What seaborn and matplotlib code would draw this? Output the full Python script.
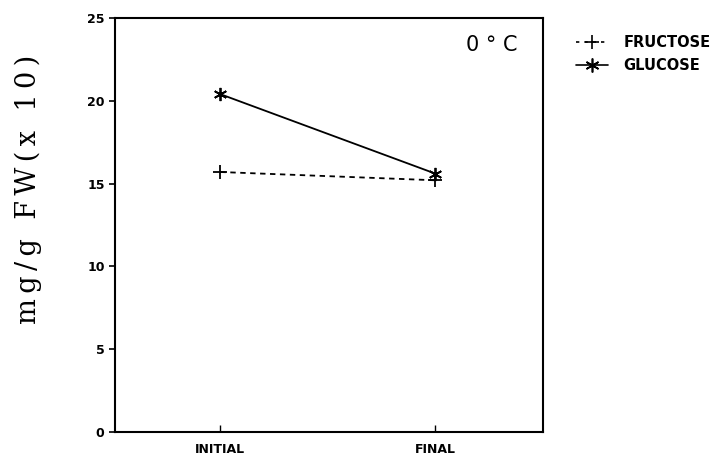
import matplotlib
matplotlib.use("Agg")
import matplotlib.pyplot as plt
import seaborn as sns
import pandas as pd
from matplotlib.lines import Line2D

categories = ["INITIAL", "FINAL"]
fructose = [15.7, 15.2]
glucose = [20.4, 15.6]
series_names = ["FRUCTOSE", "GLUCOSE"]

rows = []
for name, vals in zip(series_names, [fructose, glucose]):
    for i, v in enumerate(vals):
        rows.append({"pos": i, "stage": categories[i], "sugar": name, "value": v})
df = pd.DataFrame(rows)

sns.set_style("ticks")
fig = plt.figure(figsize=(7.21, 4.59), dpi=100)
ax = fig.add_axes([0.1595, 0.0588, 0.5936, 0.902])

sns.lineplot(data=df, x="pos", y="value", hue="sugar", style="sugar",
             palette={"FRUCTOSE": "black", "GLUCOSE": "black"},
             dashes={"FRUCTOSE": (3, 2.5), "GLUCOSE": ""},
             markers={"FRUCTOSE": "+", "GLUCOSE": (6, 2, 0)},
             markersize=9.5, markeredgewidth=1.3, markeredgecolor="black",
             linewidth=1.3, ax=ax, legend=False)

ax.set_xlim(-0.49, 1.5)
ax.set_ylim(0, 25)
ax.set_xticks([0, 1])
ax.set_xticklabels(categories, fontweight="bold", fontsize=9)
ax.set_yticks([0, 5, 10, 15, 20, 25])
ax.set_yticklabels(["0", "5", "10", "15", "20", "25"], fontweight="bold", fontsize=9)
ax.tick_params(axis="y", direction="out", length=4, width=1.2, colors="black")
ax.tick_params(axis="x", direction="in", length=5, width=1.0, colors="black", pad=8)
for s in ax.spines.values():
    s.set_visible(True)
    s.set_linewidth(1.5)
    s.set_color("black")
ax.set_xlabel("")
ax.set_ylabel("")
label = "\u2009".join("mg/g FW(x 10)")
fig.text(0.039, 0.587, label, family="DejaVu Serif", fontsize=19.5,
         rotation=90, ha="center", va="center", color="black")
ax.text(0.94, 0.935, "0 \u00b0 C", transform=ax.transAxes, fontsize=15,
        ha="right", va="center", color="black")

handles = [
    Line2D([], [], color="black", linestyle=(0, (2, 3)), marker="+", markersize=10,
           linewidth=1.2, markeredgewidth=1.2),
    Line2D([], [], color="black", linestyle="-", marker=(6, 2, 0), markersize=10,
           linewidth=1.2, markeredgewidth=1.2),
]
leg = fig.legend(handles, series_names, loc="upper left", bbox_to_anchor=(0.78, 0.952),
                 frameon=False, handlelength=2.2, handletextpad=1.1, labelspacing=0.55,
                 prop={"weight": "bold", "size": 10.5})
for t in leg.get_texts():
    t.set_color("black")

fig.savefig("out.png", dpi=100)
